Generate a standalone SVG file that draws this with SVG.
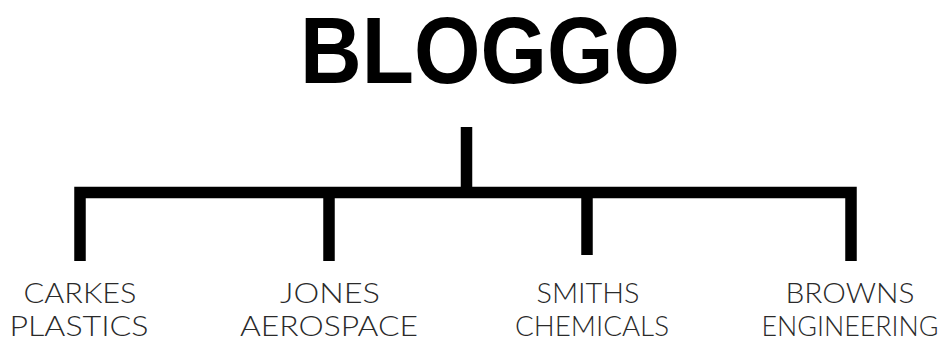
<svg xmlns="http://www.w3.org/2000/svg" width="952" height="340" viewBox="0 0 952 340">
<style>
.title{font-family:"Liberation Sans",Arial,sans-serif;font-weight:bold;font-size:94px;fill:#000}
.lbl{font-family:Lato,"Open Sans","Liberation Sans",sans-serif;font-weight:300;font-size:28px;fill:#2a2a2a;text-anchor:middle}
.ln{fill:none;stroke:#000;stroke-width:11.5;stroke-linejoin:miter;stroke-linecap:butt}
</style>
<rect width="952" height="340" fill="#fff"/>
<g id="bloggo"><text class="title" x="300" y="83" textLength="380" lengthAdjust="spacingAndGlyphs">BLOGGO</text></g>
<g id="connectors">
<path class="ln" d="M466.5 127 V192.5"/>
<path class="ln" d="M80 261 V192.5 H851 V261"/>
<path class="ln" d="M329 192.5 V261"/>
<path class="ln" d="M587 192.5 V255"/>
</g>
<g id="carkes"><text class="lbl" x="80" y="303" textLength="113" lengthAdjust="spacingAndGlyphs">CARKES</text><text class="lbl" x="79" y="336" textLength="139" lengthAdjust="spacingAndGlyphs">PLASTICS</text></g>
<g id="jones"><text class="lbl" x="330" y="303" textLength="100" lengthAdjust="spacingAndGlyphs">JONES</text><text class="lbl" x="329" y="336" textLength="178" lengthAdjust="spacingAndGlyphs">AEROSPACE</text></g>
<g id="smiths"><text class="lbl" x="588" y="303" textLength="103" lengthAdjust="spacingAndGlyphs">SMITHS</text><text class="lbl" x="592" y="336" textLength="154" lengthAdjust="spacingAndGlyphs">CHEMICALS</text></g>
<g id="browns"><text class="lbl" x="850" y="303" textLength="129" lengthAdjust="spacingAndGlyphs">BROWNS</text><text class="lbl" x="850" y="336" textLength="177" lengthAdjust="spacingAndGlyphs">ENGINEERING</text></g>
</svg>
